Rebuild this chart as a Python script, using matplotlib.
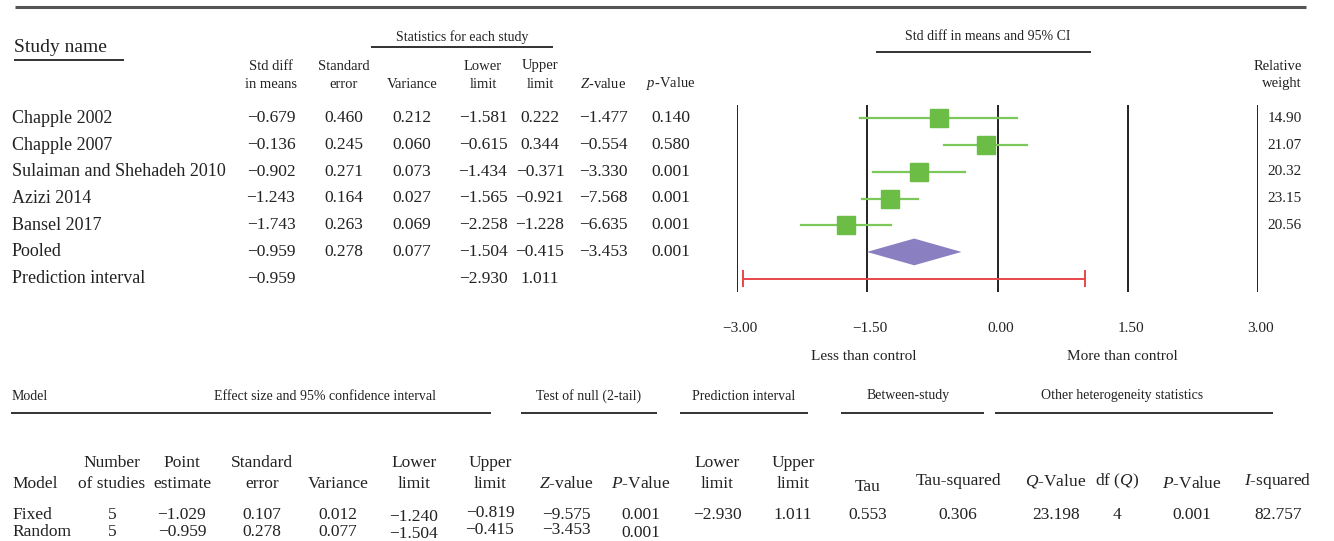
import matplotlib.pyplot as plt
import numpy as np

plt.rcParams['font.family'] = ['Liberation Serif', 'DejaVu Serif']
plt.rcParams['mathtext.fontset'] = 'custom'
plt.rcParams['mathtext.rm'] = 'Liberation Serif'
plt.rcParams['mathtext.it'] = 'Liberation Serif:italic'

# study level data
studies = ['Chapple 2002', 'Chapple 2007', 'Sulaiman and Shehadeh 2010',
           'Azizi 2014', 'Bansel 2017', 'Pooled', 'Prediction interval']
smd = [-0.679, -0.136, -0.902, -1.243, -1.743, -0.959, -0.959]
se = [0.460, 0.245, 0.271, 0.164, 0.263, 0.278, None]
var = [0.212, 0.060, 0.073, 0.027, 0.069, 0.077, None]
lower = [-1.581, -0.615, -1.434, -1.565, -2.258, -1.504, -2.930]
upper = [0.222, 0.344, -0.371, -0.921, -1.228, -0.415, 1.011]
zval = [-1.477, -0.554, -3.330, -7.568, -6.635, -3.453, None]
pval = [0.140, 0.580, 0.001, 0.001, 0.001, 0.001, None]
rel_weight = [14.90, 21.07, 20.32, 23.15, 20.56]
axis_ticks = [-3.0, -1.5, 0.0, 1.5, 3.0]

# summary table (bottom)
models = ['Fixed', 'Random']
n_studies = [5, 5]
point_est = [-1.029, -0.959]
sum_se = [0.107, 0.278]
sum_var = [0.012, 0.077]
sum_lower = [-1.240, -1.504]
sum_upper = [-0.819, -0.415]
sum_z = [-9.575, -3.453]
sum_p = [0.001, 0.001]
pi_limits = [-2.930, 1.011]
tau = 0.553
tau_sq = 0.306
q_value = 23.198
df_q = 4
het_p = 0.001
i_sq = 82.757


def fmt(v, d=3):
    if v is None:
        return ''
    s = '%.*f' % (d, v)
    return s.replace('-', '\u2212')


W, H = 1334, 541
fig = plt.figure(figsize=(W / 100, H / 100), dpi=100)
bg = fig.add_axes([0, 0, 1, 1])
bg.set_xlim(0, W)
bg.set_ylim(H, 0)
bg.axis('off')

txt = '#222222'


def t(x, y, s, size=12, ha='center', **kw):
    bg.text(x, y, s, fontsize=size, ha=ha, va='center', color=txt, **kw)


def hline(x0, x1, y, lw=1.3, c='#222222'):
    bg.plot([x0, x1], [y, y], color=c, lw=lw, solid_capstyle='butt')


# top rule
hline(15, 1306, 7, lw=2.2, c='#555555')

# top table headers
t(14, 47, 'Study name', size=14, ha='left')
hline(14, 124, 60)
t(462, 37, 'Statistics for each study', size=10)
hline(371, 553, 47)
col_x = [271, 344, 412, 483, 540, 603, 671]
heads = [('Std diff', 'in means'), ('Standard', 'error'), ('', 'Variance'),
         ('Lower', 'limit'), ('Upper', 'limit'), ('', '$\\it{Z}$-value'),
         ('', '$\\it{p}$-Value')]
for x, (h1, h2) in zip(col_x, heads):
    if h1:
        t(x, 66, h1, size=10.5)
    t(x, 84, h2, size=10.5)

t(988, 37, 'Std diff in means and 95% CI', size=10)
hline(876, 1091, 52)
t(1302, 66, 'Relative', size=10.5, ha='right')
t(1302, 84, 'weight', size=10.5, ha='right')

# top table body
row_y = 118.4 + 26.7 * np.arange(len(studies))
for i, name in enumerate(studies):
    y = row_y[i]
    t(12, y, name, size=13, ha='left')
    vals = [smd[i], se[i], var[i], lower[i], upper[i], zval[i], pval[i]]
    for x, v in zip(col_x, vals):
        t(x, y, fmt(v), size=12.5)
for i, w in enumerate(rel_weight):
    t(1302, row_y[i], '%.2f' % w, size=11, ha='right')

# forest plot
ax = fig.add_axes([737 / W, (H - 292) / H, (1258 - 737) / W, (292 - 105) / H])
ax.set_xlim(-3, 3)
ax.set_ylim(6.5, -0.5)
ax.axis('off')
for xt in axis_ticks:
    ax.axvline(xt, color='#222222', lw=1.4)
for i in range(5):
    ax.plot([lower[i], upper[i]], [i, i], color='#7cc85a', lw=1.6, zorder=3)
    ax.plot(smd[i], i, marker='s', ms=12.5, color='#6bbd45', mec='#6bbd45', zorder=4)
ax.fill([lower[5], smd[5], upper[5], smd[5]], [5, 4.5, 5, 5.5],
        color='#8a7fc0', lw=0, zorder=4)
ax.plot([lower[6], upper[6]], [6, 6], color='#e8474a', lw=1.4, zorder=4)
ax.vlines([lower[6], upper[6]], 5.68, 6.32, color='#e8474a', lw=1.4, zorder=4)

for xt in axis_ticks:
    px = 737 + (xt + 3) / 6 * (1258 - 737)
    t(px + 3, 328, fmt(xt, 2), size=11)
t(864, 357, 'Less than control', size=11)
t(1122, 357, 'More than control', size=11)

# bottom summary section
t(12, 396, 'Model', size=10, ha='left')
t(325, 396, 'Effect size and 95% confidence interval', size=10)
hline(11, 491, 413)
t(589, 396, 'Test of null (2-tail)', size=10)
hline(521, 657, 413)
t(744, 396, 'Prediction interval', size=10)
hline(680, 808, 413)
t(908, 396, 'Between-study', size=10)
hline(841, 984, 413)
t(1122, 396, 'Other heterogeneity statistics', size=10)
hline(995, 1273, 413)

bx = [112, 182, 262, 338, 414, 490, 566, 641, 717, 793, 868, 958, 1056, 1117, 1192, 1278]
bheads = [('Number', 'of studies'), ('Point', 'estimate'), ('Standard', 'error'),
          ('', 'Variance'), ('Lower', 'limit'), ('Upper', 'limit'),
          ('', '$\\it{Z}$-value'), ('', '$\\it{P}$-Value'), ('Lower', 'limit'),
          ('Upper', 'limit'), ('', 'Tau'), ('', 'Tau-squared'),
          ('', '$\\it{Q}$-Value'), ('', 'df ($\\it{Q}$)'), ('', '$\\it{P}$-Value'),
          ('', '$\\it{I}$-squared')]
t(12, 484, 'Model', size=12.5, ha='left')
for j, (x, (h1, h2)) in enumerate(zip(bx, bheads)):
    if h1:
        t(x, 463, h1, size=12.5)
    yy = 484
    if j >= 11 and j != 14:
        yy = 481
    if j == 10:
        yy = 487
    t(x, yy, h2, size=12.5)

fixed_y, random_y = 515, 532
for k, (m, y) in enumerate(zip(models, [fixed_y, random_y])):
    t(12, y, m, size=12.5, ha='left')
    vals = [str(n_studies[k]), fmt(point_est[k]), fmt(sum_se[k]), fmt(sum_var[k]),
            fmt(sum_lower[k]), fmt(sum_upper[k]), fmt(sum_z[k]), fmt(sum_p[k])]
    offs = [0, 0, 0, 0, 2, -2, -2 * k, 1 * k]
    for x, v, o in zip(bx[:8], vals, offs):
        t(x, y + o, v, size=12.5)

het_vals = [fmt(pi_limits[0]), fmt(pi_limits[1]), fmt(tau), fmt(tau_sq),
            fmt(q_value), str(df_q), fmt(het_p), fmt(i_sq)]
for x, v in zip(bx[8:], het_vals):
    t(x, fixed_y, v, size=12.5)

fig.savefig('out.png', dpi=100)
